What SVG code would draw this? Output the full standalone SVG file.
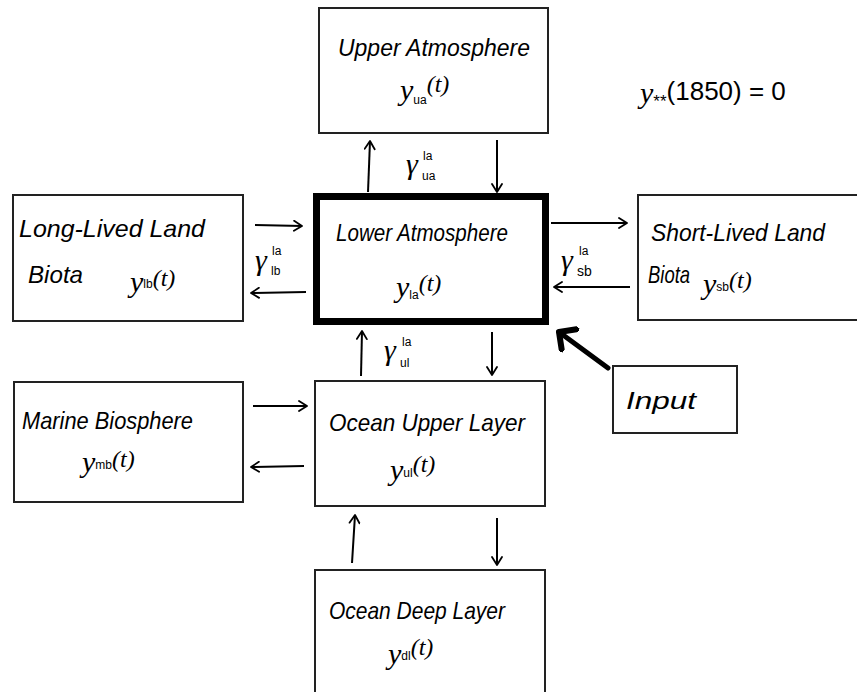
<svg xmlns="http://www.w3.org/2000/svg" width="857" height="692" viewBox="0 0 857 692">
<defs>
<marker id="ah" viewBox="0 0 12 12" refX="10" refY="6" markerWidth="12" markerHeight="12" markerUnits="userSpaceOnUse" orient="auto">
<path d="M2,1 L10,6 L2,11" fill="none" stroke="#000" stroke-width="1.8" stroke-linecap="round" stroke-linejoin="round"/>
</marker>
<marker id="ahb" viewBox="0 0 12 12" refX="6" refY="6" markerWidth="6" markerHeight="6" orient="auto">
<path d="M1,1 L6,6 L1,11" fill="none" stroke="#000" stroke-width="2.4" stroke-linecap="round" stroke-linejoin="round"/>
</marker>
</defs>
<style>
.box{fill:#fff;stroke:#222;stroke-width:2}
.thick{fill:#fff;stroke:#000;stroke-width:7}
.lbl{font-family:"Liberation Sans","DejaVu Sans",sans-serif;font-size:24px;fill:#000;font-style:italic}
.m{font-family:"Liberation Serif","DejaVu Serif",serif;font-size:30px;fill:#000;font-style:italic}
.sub{font-family:"Liberation Sans","DejaVu Sans",sans-serif;font-size:12px;font-style:normal}
.par{font-family:"Liberation Serif","DejaVu Serif",serif;font-size:24px;font-style:italic}
.s{font-family:"Liberation Sans","DejaVu Sans",sans-serif;font-size:12px;fill:#000}
.g{font-family:"Liberation Serif","DejaVu Serif",serif;font-size:30px;fill:#000;font-style:italic}
.c{fill:none;stroke:#000;stroke-width:2;marker-end:url(#ah)}
</style>
<rect width="857" height="692" fill="#fff"/>

<g id="connectors">
<line class="c" x1="368" y1="192" x2="370" y2="141"/>
<line class="c" x1="497" y1="140" x2="497" y2="192"/>
<line class="c" x1="255" y1="225" x2="302" y2="226"/>
<line class="c" x1="306" y1="292" x2="251" y2="293"/>
<line class="c" x1="551" y1="223" x2="627" y2="223"/>
<line class="c" x1="630" y1="287" x2="554" y2="287"/>
<line class="c" x1="361" y1="376" x2="362" y2="331"/>
<line class="c" x1="492" y1="332" x2="492" y2="375"/>
<line class="c" x1="253" y1="406" x2="307" y2="406"/>
<line class="c" x1="304" y1="466" x2="251" y2="467"/>
<line class="c" x1="352" y1="563" x2="355" y2="515"/>
<line class="c" x1="497" y1="518" x2="497" y2="565"/>
<line x1="608" y1="368" x2="559" y2="332" stroke="#000" stroke-width="5" stroke-linecap="round" marker-end="url(#ahb)"/>
<g id="gamma-ua"><text class="g" x="406" y="174">γ</text><text class="s" x="423" y="160">la</text><text class="s" x="422" y="180">ua</text></g>
<g id="gamma-lb"><text class="g" x="255" y="270">γ</text><text class="s" x="272" y="255">la</text><text class="s" x="271" y="275">lb</text></g>
<g id="gamma-sb"><text class="g" x="561" y="270">γ</text><text class="s" x="579" y="255">la</text><text class="s" x="577" y="276" style="font-size:14px">sb</text></g>
<g id="gamma-ul"><text class="g" x="384" y="360">γ</text><text class="s" x="402" y="346">la</text><text class="s" x="400" y="367">ul</text></g>
</g>

<g id="upper-atmosphere">
<rect class="box" x="319" y="8" width="229" height="125"/>
<text class="lbl" x="338" y="56" textLength="192" lengthAdjust="spacingAndGlyphs">Upper Atmosphere</text>
<text class="m" x="400" y="100">y<tspan class="sub" dy="4">ua</tspan><tspan class="par" dy="-12">(t)</tspan></text>
</g>

<g id="init-cond">
<text class="m" x="640" y="103">y<tspan class="sub" style="font-size:17px" dy="4">**</tspan><tspan style="font-family:'Liberation Sans',sans-serif;font-size:26px;font-style:normal" dy="-7">(1850) = 0</tspan></text>
</g>

<g id="lower-atmosphere">
<rect class="thick" x="316.5" y="196.5" width="229" height="125"/>
<text class="lbl" x="336" y="241" textLength="172" lengthAdjust="spacingAndGlyphs">Lower Atmosphere</text>
<text class="m" x="396" y="297">y<tspan class="sub" dy="2">la</tspan><tspan class="par" dy="-8">(t)</tspan></text>
</g>

<g id="long-lived-land-biota">
<rect class="box" x="13" y="195" width="230" height="126"/>
<text class="lbl" x="19" y="237" textLength="186" lengthAdjust="spacingAndGlyphs">Long-Lived Land</text>
<text class="lbl" x="28" y="283" textLength="55" lengthAdjust="spacingAndGlyphs">Biota</text>
<text class="m" x="130" y="292">y<tspan class="sub" dy="-4">lb</tspan><tspan class="par" dy="-2">(t)</tspan></text>
</g>

<g id="short-lived-land-biota">
<rect class="box" x="638" y="195" width="222" height="125"/>
<text class="lbl" x="651" y="241" textLength="174" lengthAdjust="spacingAndGlyphs">Short-Lived Land</text>
<text class="lbl" x="648" y="283" textLength="42" lengthAdjust="spacingAndGlyphs">Biota</text>
<text class="m" x="703" y="294">y<tspan class="sub" dy="-3">sb</tspan><tspan class="par" dy="-3">(t)</tspan></text>
</g>

<g id="marine-biosphere">
<rect class="box" x="14" y="382" width="229" height="120"/>
<text class="lbl" x="22" y="429" textLength="171" lengthAdjust="spacingAndGlyphs">Marine Biosphere</text>
<text class="m" x="82" y="472">y<tspan class="sub" dy="-3">mb</tspan><tspan class="par" dy="-2">(t)</tspan></text>
</g>

<g id="ocean-upper-layer">
<rect class="box" x="315" y="381" width="230" height="125"/>
<text class="lbl" x="329" y="431" textLength="196" lengthAdjust="spacingAndGlyphs">Ocean Upper Layer</text>
<text class="m" x="390" y="480">y<tspan class="sub" dy="-3">ul</tspan><tspan class="par" dy="-5">(t)</tspan></text>
</g>

<g id="input">
<rect class="box" x="613" y="366" width="124" height="67"/>
<text class="lbl" x="626" y="409" textLength="70" lengthAdjust="spacingAndGlyphs">Input</text>
</g>

<g id="ocean-deep-layer">
<rect class="box" x="315" y="570" width="230" height="140"/>
<text class="lbl" x="329" y="619" textLength="176" lengthAdjust="spacingAndGlyphs">Ocean Deep Layer</text>
<text class="m" x="388" y="664">y<tspan class="sub" dy="-4">dl</tspan><tspan class="par" dy="-5">(t)</tspan></text>
</g>
</svg>
